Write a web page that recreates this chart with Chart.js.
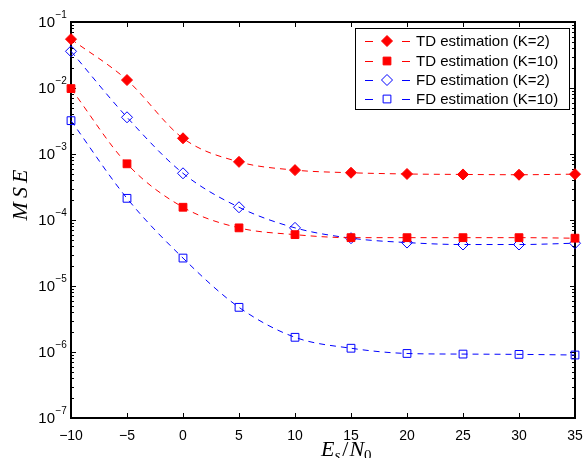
<!DOCTYPE html>
<html>
<head>
<meta charset="utf-8">
<script src="https://cdn.jsdelivr.net/npm/chart.js@4/dist/chart.umd.min.js"></script>
<style>
  html, body { margin: 0; padding: 0; background: #fff; }
  #wrap { width: 585px; height: 458px; }
</style>
</head>
<body>
<div id="wrap"><canvas id="mseChart" width="585" height="458"></canvas></div>
<script>
    // Es/N0 in dB
    const snrDb = [-10, -5, 0, 5, 10, 15, 20, 25, 30, 35];
    const tdK2 = [5.5e-2, 1.32e-2, 1.73e-3, 7.6e-4, 5.7e-4, 5.2e-4, 4.98e-4, 4.9e-4, 4.85e-4, 4.95e-4];
    const tdK10 = [9.8e-3, 7.1e-4, 1.56e-4, 7.6e-5, 6.0e-5, 5.4e-5, 5.4e-5, 5.4e-5, 5.4e-5, 5.3e-5];
    const fdK2 = [3.6e-2, 3.6e-3, 5.1e-4, 1.56e-4, 7.6e-5, 5.3e-5, 4.55e-5, 4.25e-5, 4.25e-5, 4.45e-5];
    const fdK10 = [3.2e-3, 2.13e-4, 2.65e-5, 4.75e-6, 1.67e-6, 1.14e-6, 9.5e-7, 9.3e-7, 9.2e-7, 9.0e-7];

    const xTicks = [-10, -5, 0, 5, 10, 15, 20, 25, 30, 35];
    const yExponents = [-1, -2, -3, -4, -5, -6, -7];

    const RED = '#ff0000';
    const BLUE = '#0000ff';

    function series(label, values, color, style, filled) {
      return {
        label: label,
        data: snrDb.map((x, i) => ({ x: x, y: values[i] })),
        borderColor: color,
        borderWidth: 1,
        borderDash: [6, 5],
        pointStyle: style,
        pointRadius: style === 'rectRot' ? 5.5 : 5.5,
        pointBorderWidth: 1,
        pointBorderColor: color,
        pointBackgroundColor: filled ? color : 'rgba(0,0,0,0)',
        cubicInterpolationMode: 'monotone',
        fill: false,
        clip: false
      };
    }

    const datasets = [
      series('TD estimation (K=2)', tdK2, RED, 'rectRot', true),
      series('TD estimation (K=10)', tdK10, RED, 'rect', true),
      series('FD estimation (K=2)', fdK2, BLUE, 'rectRot', false),
      series('FD estimation (K=10)', fdK10, BLUE, 'rect', false)
    ];

    // frame + inward ticks, MATLAB style
    const framePlugin = {
      id: 'frame',
      beforeDatasetsDraw(chart) {
        const { ctx, chartArea: a, scales } = chart;
        ctx.save();
        ctx.strokeStyle = '#000';
        ctx.lineWidth = 1;
        ctx.beginPath();
        xTicks.forEach(v => {
          const px = Math.round(scales.x.getPixelForValue(v)) + 0.5;
          ctx.moveTo(px, a.bottom); ctx.lineTo(px, a.bottom - 5);
          ctx.moveTo(px, a.top); ctx.lineTo(px, a.top + 5);
        });
        yExponents.forEach(e => {
          for (let m = 1; m <= 9; m++) {
            if (e === -1 && m > 1) continue;
            const py = Math.round(scales.y.getPixelForValue(m * Math.pow(10, e))) + 0.5;
            const len = m === 1 ? 5 : 3;
            ctx.moveTo(a.left, py); ctx.lineTo(a.left + len, py);
            ctx.moveTo(a.right, py); ctx.lineTo(a.right - len, py);
          }
        });
        ctx.stroke();
        ctx.lineWidth = 2;
        ctx.strokeRect(a.left, a.top, a.right - a.left, a.bottom - a.top);
        ctx.restore();
      },
      afterDraw(chart) {
        const { ctx, chartArea: a, scales } = chart;
        ctx.save();
        ctx.fillStyle = '#000';
        // x tick labels
        ctx.font = '14px "Liberation Sans", Arial, sans-serif';
        ctx.textAlign = 'center';
        ctx.textBaseline = 'alphabetic';
        xTicks.forEach(v => {
          const px = scales.x.getPixelForValue(v);
          ctx.fillText(String(v).replace('-', '\u2212'), px, 440);
        });
        // y tick labels 10^e
        yExponents.forEach(e => {
          const py = scales.y.getPixelForValue(Math.pow(10, e));
          ctx.font = '15px "Liberation Sans", Arial, sans-serif';
          ctx.textAlign = 'right';
          ctx.textBaseline = 'middle';
          ctx.fillText('10', 55, py + 1);
          ctx.font = '10px "Liberation Sans", Arial, sans-serif';
          ctx.textAlign = 'left';
          ctx.fillText('\u2212' + Math.abs(e), 55.5, py - 7);
        });
        // y title
        ctx.save();
        ctx.translate(27, 195);
        ctx.rotate(-Math.PI / 2);
        ctx.font = 'italic 22px "Liberation Serif", "Times New Roman", serif';
        ctx.textBaseline = 'alphabetic';
        ctx.textAlign = 'left';
        const letters = ['M', 'S', 'E'];
        const gap = 4;
        let total = letters.reduce((s, c) => s + ctx.measureText(c).width, 0) + gap * 2;
        let cx = -total / 2;
        letters.forEach(c => {
          ctx.fillText(c, cx, 0);
          cx += ctx.measureText(c).width + gap;
        });
        ctx.restore();
        // x title E_s / N_0
        const big = 'italic 22px "Liberation Serif", "Times New Roman", serif';
        const sub = 'italic 15px "Liberation Serif", "Times New Roman", serif';
        const subUp = '15px "Liberation Serif", "Times New Roman", serif';
        let tx = 321;
        const base = 456;
        ctx.textAlign = 'left';
        ctx.textBaseline = 'alphabetic';
        ctx.font = big; ctx.fillText('E', tx, base); tx += ctx.measureText('E').width;
        ctx.font = sub; ctx.fillText('s', tx, base + 4); tx += ctx.measureText('s').width + 2;
        ctx.font = big.replace('italic ', ''); ctx.fillText('/', tx, base); tx += ctx.measureText('/').width + 1;
        ctx.font = big; ctx.fillText('N', tx, base); tx += ctx.measureText('N').width;
        ctx.font = subUp; ctx.fillText('0', tx, base + 4);

        // legend box
        const lx = 355, ly = 28, lw = 214, lh = 81;
        ctx.fillStyle = '#fff';
        ctx.fillRect(lx, ly, lw, lh);
        ctx.strokeStyle = '#000';
        ctx.lineWidth = 1;
        ctx.strokeRect(lx + 0.5, ly + 0.5, lw, lh);
        const rows = [41, 61, 80, 99];
        chart.data.datasets.forEach((ds, i) => {
          const ry = rows[i];
          ctx.strokeStyle = ds.borderColor;
          ctx.lineWidth = 1;
          ctx.beginPath();
          ctx.moveTo(365, ry + 0.5); ctx.lineTo(373, ry + 0.5);
          ctx.moveTo(402, ry + 0.5); ctx.lineTo(410, ry + 0.5);
          ctx.stroke();
          ctx.fillStyle = ds.pointBackgroundColor;
          Chart.helpers.drawPoint(ctx, {
            pointStyle: ds.pointStyle,
            radius: ds.pointRadius,
            rotation: 0,
            borderWidth: 1
          }, 387, ry);
          ctx.fillStyle = '#000';
          ctx.font = '15px "Liberation Sans", Arial, sans-serif';
          ctx.textAlign = 'left';
          ctx.textBaseline = 'middle';
          ctx.fillText(ds.label, 416, ry + 1);
        });
        ctx.restore();
      }
    };

    new Chart(document.getElementById('mseChart').getContext('2d'), {
      type: 'line',
      data: { datasets: datasets },
      options: {
        responsive: false,
        animation: false,
        layout: { padding: { left: 71, top: 22, right: 10, bottom: 40 } },
        scales: {
          x: { type: 'linear', min: -10, max: 35, display: false },
          y: { type: 'logarithmic', min: 1e-7, max: 1e-1, display: false }
        },
        plugins: {
          legend: { display: false },
          tooltip: { enabled: false }
        }
      },
      plugins: [framePlugin]
    });
</script>
</body>
</html>
